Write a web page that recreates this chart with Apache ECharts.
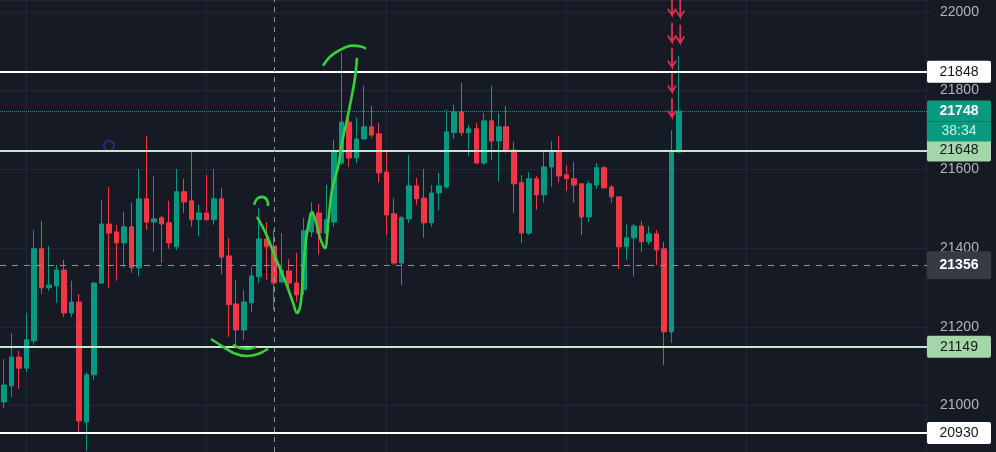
<!DOCTYPE html>
<html>
<head>
<meta charset="utf-8">
<title>Candles</title>
<script src="https://cdn.jsdelivr.net/npm/echarts@6/dist/echarts.min.js"></script>
<style>
  html, body { margin: 0; padding: 0; background: #161a25; }
  #chart { width: 996px; height: 452px; }
</style>
</head>
<body>
<div id="chart"></div>
<script>
// candle values
var opens = [21009,21050,21123,21095,21164,21398,21299,21304,21344,21235,21263,20958,21078,21311,21461,21441,21413,21454,21350,21525,
  21466,21477,21464,21403,21543,21520,21472,21489,21472,21525,21380,21258,21192,21261,21327,21423,21405,21314,21342,21311,
  21294,21441,21489,21438,21466,21616,21720,21629,21677,21708,21690,21593,21487,21362,21474,21558,21527,21464,21540,21555,
  21693,21746,21693,21703,21616,21723,21672,21708,21649,21566,21438,21576,21535,21606,21644,21586,21576,21563,21479,21560,
  21604,21555,21530,21403,21426,21456,21416,21436,21398,21187,21644];
var closes = [21052,21123,21095,21167,21398,21299,21306,21344,21235,21263,20961,21078,21311,21461,21438,21413,21454,21350,21525,21466,
  21474,21461,21413,21543,21517,21472,21489,21472,21525,21377,21256,21192,21263,21329,21423,21403,21311,21344,21311,21281,
  21444,21489,21438,21472,21644,21720,21629,21677,21708,21687,21591,21484,21362,21477,21558,21525,21464,21540,21558,21695,
  21746,21693,21703,21616,21723,21672,21708,21649,21563,21438,21576,21535,21606,21644,21583,21576,21560,21479,21563,21604,
  21553,21530,21403,21426,21456,21416,21436,21395,21187,21647,21748];
var lows = [20994,21022,21042,21085,21154,21283,21291,21261,21225,21225,20933,20885,21065,21309,21299,21317,21352,21337,21329,21446,
  21390,21362,21398,21395,21489,21454,21431,21470,21459,21334,21174,21154,21167,21238,21311,21319,21243,21311,21294,21263,
  21281,21428,21383,21400,21454,21611,21606,21616,21675,21680,21566,21433,21357,21306,21464,21510,21426,21454,21497,21550,
  21677,21685,21634,21614,21611,21624,21568,21642,21489,21413,21433,21497,21515,21555,21566,21545,21515,21433,21466,21550,
  21550,21515,21347,21370,21327,21390,21408,21357,21103,21159,21642];
var highs = [21118,21184,21139,21235,21446,21469,21405,21357,21370,21317,21283,21085,21314,21522,21555,21459,21492,21515,21601,21685,
  21583,21482,21520,21601,21576,21647,21510,21586,21601,21553,21426,21319,21294,21352,21502,21466,21446,21438,21372,21388,
  21477,21517,21512,21560,21675,21896,21746,21731,21812,21761,21718,21649,21527,21482,21637,21578,21601,21560,21591,21751,
  21764,21820,21713,21718,21743,21812,21743,21761,21670,21586,21593,21583,21647,21672,21685,21611,21619,21563,21571,21616,
  21609,21560,21530,21461,21461,21469,21456,21446,21416,21700,21888];

var slotCount = 124;   // candles plus empty space on the right
var yMin = 20882, yMax = 22030;

var whiteLevels = [21848, 20930];
var greenLevels = [21648, 21149];
var lastPrice = 21748;
var countdown = '38:34';
var crossPrice = 21356;
var crossCandle = 36;
var gridCandles = [3, 27, 51, 75, 99, 123];

// hand drawings, [candle index, price]
var greenStrokes = [
  [[27.63,21169],[29.1,21151],[30.7,21133],[32.43,21126],[33.9,21131],[35.23,21144]],
  [[30.57,21154],[31.5,21146],[32.57,21144],[33.63,21149]],
  [[33.37,21510],[33.77,21525],[34.43,21530],[35.1,21522],[35.23,21507]],
  [[33.77,21479],[34.97,21436],[36.3,21372],[37.63,21311],[38.57,21261],[39.1,21235],[39.5,21250],[39.77,21294],
   [39.9,21337],[40.3,21421],[40.7,21466],[41.1,21492],[41.63,21466],[42.17,21426],[42.83,21400],[43.23,21459],
   [43.77,21548],[44.57,21606],[45.1,21667],[45.77,21726],[46.3,21776],[46.83,21832],[47.1,21883]],
  [[42.57,21863],[43.5,21886],[44.83,21903],[46.43,21914],[47.77,21911],[48.3,21906]]
];
// [candle index, top price, tip price]
var arrows = [
  [89.1,22030,21992],[89.1,21972,21924],[89.1,21909,21860],[89.1,21845,21797],[89.1,21781,21733],
  [90.2,22030,21987],[90.2,21967,21921]
];
var circlePoint = [14.03, 21660];
var cursorStrokes = [
  [[34.03,21339],[37.23,21339]],
  [[36.03,21362],[36.03,21314]]
];

var FONT = 'Liberation Sans, Arial, sans-serif';
var UP = '#089981', DOWN = '#f23645';

var categories = [];
for (var i = 0; i < slotCount; i++) categories.push(String(i));

var candleData = opens.map(function (o, k) {
  return [o, closes[k], lows[k], highs[k]];
});

function boxLabel(text, bg, fg, h, bold) {
  return {
    show: true, position: 'end', distance: -3,
    formatter: '{t|' + text + '}',
    rich: {
      t: {
        width: 64, height: h, lineHeight: h, align: 'center',
        backgroundColor: bg, color: fg, fontSize: 14, fontFamily: FONT,
        fontWeight: bold ? 'bold' : 'normal', borderRadius: 2
      }
    }
  };
}

var levelLines = [];
whiteLevels.forEach(function (v) {
  levelLines.push({ yAxis: v, lineStyle: { color: '#ffffff', width: 2, type: 'solid' },
    label: boxLabel(String(v), '#ffffff', '#131722', 22) });
});
greenLevels.forEach(function (v) {
  levelLines.push({ yAxis: v, lineStyle: { color: '#c8e6c9', width: 2, type: 'solid' },
    label: boxLabel(String(v), '#a5d6a7', '#131722', 22) });
});
levelLines.push({
  yAxis: lastPrice, lineStyle: { color: '#2b8a7c', width: 1, type: 'dotted' },
  label: {
    show: true, position: 'end', distance: -3,
    formatter: '{p| }\n{a|' + lastPrice + '}\n{b|' + countdown + '}',
    rich: {
      p: { width: 64, height: 20, lineHeight: 20 },
      a: { width: 64, height: 21, lineHeight: 21, align: 'center', backgroundColor: UP,
        color: '#ffffff', fontWeight: 'bold', fontSize: 14, fontFamily: FONT, borderRadius: [2, 2, 0, 0] },
      b: { width: 64, height: 20, lineHeight: 20, align: 'center', backgroundColor: UP,
        color: '#cdeee8', fontSize: 14, fontFamily: FONT, borderRadius: [0, 0, 2, 2] }
    }
  }
});
levelLines.push({ yAxis: crossPrice, lineStyle: { color: '#8e929c', width: 1, type: [6, 6] },
  label: boxLabel(String(crossPrice), '#363a45', '#ffffff', 28, true) });

var arrowLines = arrows.map(function (a) {
  var x = a[0], top = a[1], tip = a[2];
  return { coords: [[x, top], [x, tip], [x - 0.55, tip + 16], [x, tip], [x + 0.55, tip + 16]] };
});

var series = [
  {
    name: 'grid', type: 'line', xAxisIndex: 1, data: [],
    markLine: {
      z: 1, silent: true, symbol: 'none', animation: false,
      label: { show: false },
      lineStyle: { color: '#232734', width: 1, type: 'solid' },
      data: gridCandles.map(function (c) { return { xAxis: c }; })
    }
  },
  {
    name: 'price', type: 'candlestick', data: candleData, barWidth: 5,
    itemStyle: { color: UP, color0: DOWN, borderColor: UP, borderColor0: DOWN, borderWidth: 1 },
    markLine: {
      silent: true, symbol: 'none', animation: false,
      data: levelLines
    }
  },
  {
    name: 'cross', type: 'line', xAxisIndex: 1, data: [],
    markLine: {
      silent: true, symbol: 'none', animation: false,
      label: { show: false },
      lineStyle: { color: '#8e929c', width: 1, type: [5, 5] },
      data: [{ xAxis: crossCandle }]
    }
  },
  {
    name: 'arrows', type: 'lines', coordinateSystem: 'cartesian2d', xAxisIndex: 1, polyline: true,
    silent: true, lineStyle: { color: '#e0304f', width: 1.8, opacity: 1 }, data: arrowLines
  },
  {
    name: 'cursor', type: 'lines', coordinateSystem: 'cartesian2d', xAxisIndex: 1, polyline: true,
    silent: true, lineStyle: { color: '#000000', width: 1.5, opacity: 1 },
    data: cursorStrokes.map(function (s) { return { coords: s }; })
  },
  {
    name: 'circle', type: 'scatter', xAxisIndex: 1, data: [circlePoint],
    symbol: 'circle', symbolSize: 10, silent: true,
    itemStyle: { color: 'rgba(0,0,0,0)', borderColor: '#2e3c96', borderWidth: 1.6 }
  }
];
greenStrokes.forEach(function (s, k) {
  series.push({
    name: 'draw' + k, type: 'line', xAxisIndex: 1, data: s, smooth: 0.35,
    showSymbol: false, silent: true, z: 6,
    lineStyle: { color: '#37d13b', width: 2.6 }
  });
});

var chart = echarts.init(document.getElementById('chart'));
chart.setOption({
  animation: false,
  backgroundColor: '#161a25',
  grid: { left: 0, right: 66, top: 0, bottom: 0 },
  xAxis: [
    { type: 'category', data: categories, show: false, boundaryGap: true },
    { type: 'value', min: -0.5, max: slotCount - 0.5, show: false }
  ],
  yAxis: {
    type: 'value', position: 'right', min: yMin, max: yMax, scale: true,
    axisLine: { show: false }, axisTick: { show: false },
    splitLine: { show: true, lineStyle: { color: '#232734', width: 1 } },
    axisLabel: {
      showMinLabel: false, showMaxLabel: false, margin: 10,
      color: '#b2b5be', fontSize: 14, fontFamily: FONT,
      formatter: function (v) { return String(v); }
    }
  },
  series: series
});
</script>
</body>
</html>
